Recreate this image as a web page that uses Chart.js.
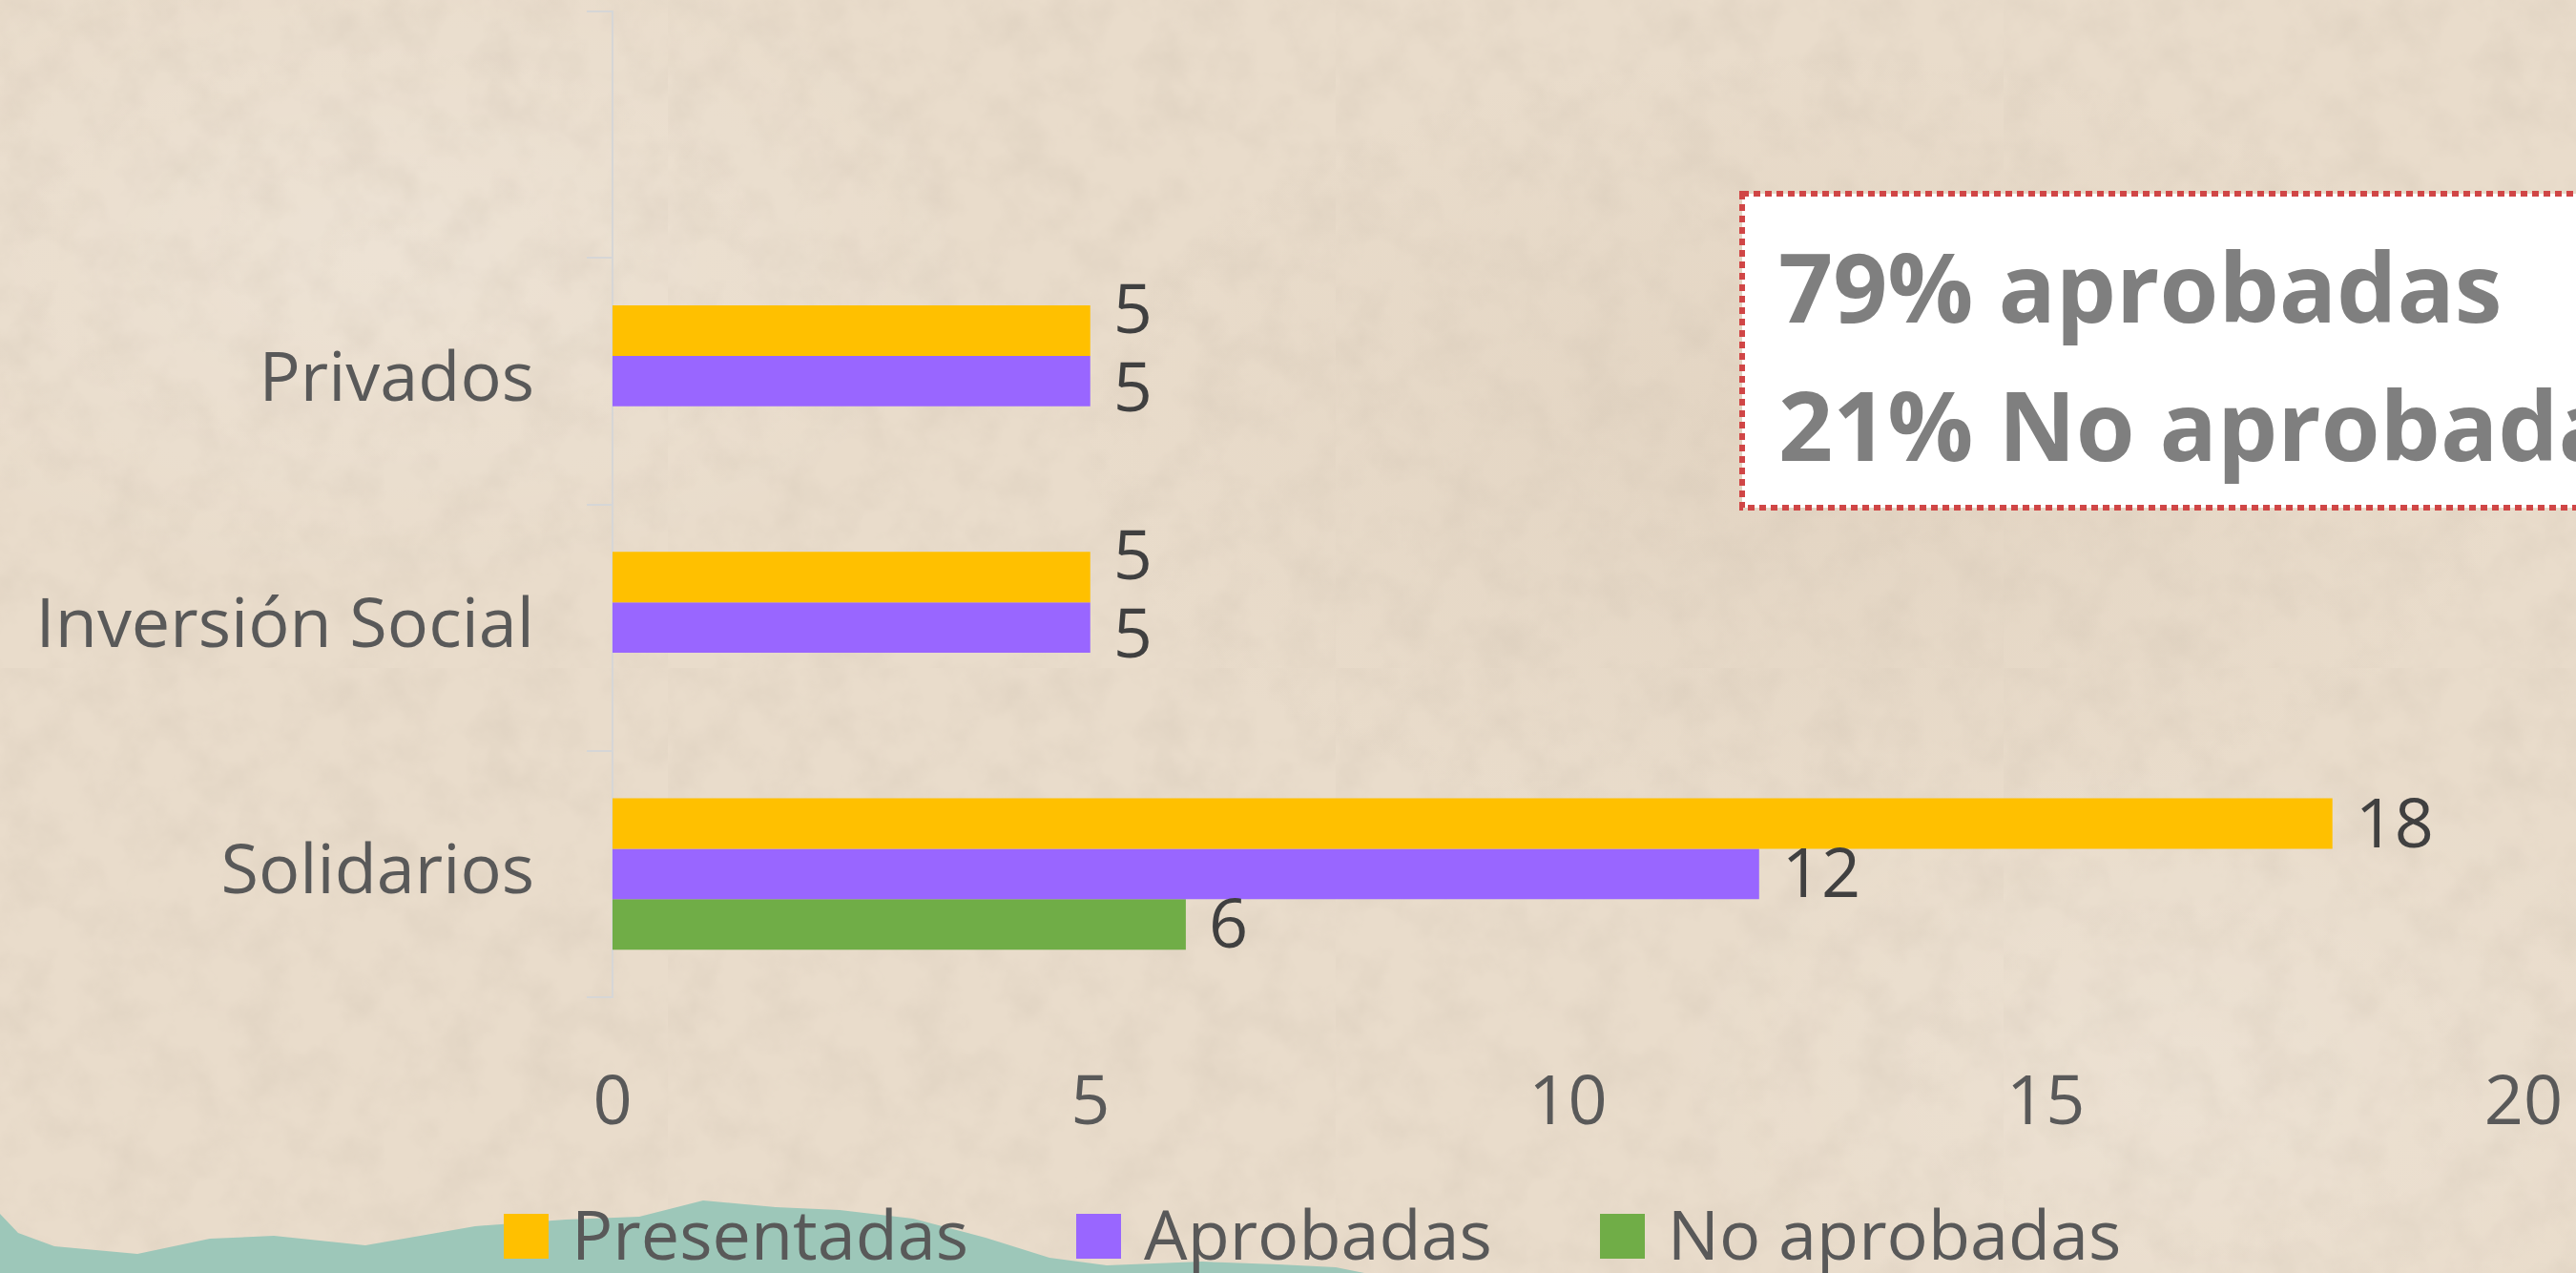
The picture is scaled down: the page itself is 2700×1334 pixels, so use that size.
<!DOCTYPE html>
<html>
<head>
<meta charset="utf-8">
<title>Propuestas</title>
<script src="https://cdn.jsdelivr.net/npm/chart.js@4.4.0/dist/chart.umd.min.js"></script>
<style>
  html, body { margin: 0; padding: 0; width: 2700px; height: 1334px; overflow: hidden; }
  body {
    position: relative;
    font-family: "Open Sans", Lato, sans-serif;
    background:
      radial-gradient(ellipse 900px 500px at 15% 20%, rgba(255,255,255,0.18), transparent 70%),
      radial-gradient(ellipse 1100px 600px at 70% 35%, rgba(150,120,90,0.08), transparent 70%),
      radial-gradient(ellipse 800px 500px at 85% 85%, rgba(255,255,255,0.15), transparent 70%),
      #e9dccb;
  }
  #grain {
    position: absolute; left: 0; top: 0; width: 2700px; height: 1334px; opacity: 0.45;
    background-image: url("data:image/svg+xml;utf8,<svg xmlns='http://www.w3.org/2000/svg' width='700' height='700'><filter id='n'><feTurbulence type='fractalNoise' baseFrequency='0.02' numOctaves='4' seed='7'/><feColorMatrix values='0 0 0 0 0.55  0 0 0 0 0.47  0 0 0 0 0.38  0.9 0 0 0 -0.35'/></filter><rect width='100%' height='100%' filter='url(%23n)'/></svg>");
  }
  #edge {
    position: absolute; left: 0; top: 0; width: 2700px; height: 1334px;
    background: #9dc7b9;
    clip-path: polygon(0px 1272px, 19px 1292px, 57px 1306px, 144px 1314px, 220px 1298px, 287px 1295px,
      383px 1305px, 498px 1285px, 593px 1278px, 670px 1275px, 737px 1258px, 813px 1265px, 880px 1268px,
      957px 1277px, 1033px 1297px, 1100px 1318px, 1160px 1326px, 1260px 1322px, 1340px 1325px,
      1400px 1328px, 1430px 1334px, 0px 1334px);
  }
  #wrap { position: absolute; left: 0; top: 0; width: 2700px; height: 1334px; }
  #legend {
    position: absolute; left: 528px; top: 1252px;
    display: flex; align-items: center; gap: 113px;
    font-size: 72px; color: #595959; line-height: 86px; white-space: nowrap;
  }
  #legend .item { display: flex; align-items: center; }
  #legend .box { width: 47px; height: 47px; margin-right: 24px; }
  #legend .txt { position: relative; top: -3px; }
</style>
</head>
<body>
<div id="grain"></div>
<div id="edge"></div>
<div id="wrap"><canvas id="chart" width="2700" height="1334"></canvas></div>
<div id="legend"></div>
<script>
const categories = ["", "Privados", "Inversión Social", "Solidarios"];
const presentadas = [null, 5, 5, 18];
const aprobadas = [null, 5, 5, 12];
const noAprobadas = [null, null, null, 6];
const seriesNames = ["Presentadas", "Aprobadas", "No aprobadas"];
const seriesColors = ["#ffc000", "#9966ff", "#70ad47"];
const xMin = 0, xMax = 20, xStep = 5;
const summaryLines = ["79% aprobadas", "21% No aprobadas"];

const FONT = "Open Sans";

// value labels at the end of each bar; labels that would collide get pushed apart
const barValueLabels = {
  id: "barValueLabels",
  afterDatasetsDraw(chart) {
    const ctx = chart.ctx;
    const minGap = 82;
    ctx.save();
    ctx.font = `72px ${FONT}`;
    ctx.fillStyle = "#404040";
    ctx.textAlign = "left";
    ctx.textBaseline = "middle";
    chart.data.labels.forEach((_, j) => {
      const items = [];
      chart.data.datasets.forEach((ds, i) => {
        const v = ds.data[j];
        if (v === null || v === undefined) return;
        const bar = chart.getDatasetMeta(i).data[j];
        const text = String(v);
        items.push({ text, x: bar.x + 24, w: ctx.measureText(text).width, y: bar.y + 4 });
      });
      for (let k = 1; k < items.length; k++) {
        const a = items[k - 1], b = items[k];
        const overlapX = a.x < b.x + b.w && b.x < a.x + a.w;
        const d = b.y - a.y;
        if (overlapX && d < minGap) {
          const need = minGap - d;
          a.y -= need * 0.75;
          b.y += need * 0.25;
        }
      }
      items.forEach(it => ctx.fillText(it.text, it.x, it.y));
    });
    ctx.restore();
  }
};

// dashed summary box, top right
const summaryBox = {
  id: "summaryBox",
  afterDraw(chart) {
    const ctx = chart.ctx;
    const x = 1826, y = 203, w = 1000, h = 329;
    ctx.save();
    ctx.fillStyle = "#ffffff";
    ctx.fillRect(x, y, w, h);
    ctx.setLineDash([7, 5]);
    ctx.lineWidth = 6;
    ctx.strokeStyle = "#d04646";
    ctx.strokeRect(x, y, w, h);
    ctx.setLineDash([]);
    ctx.fillStyle = "#7f7f7f";
    ctx.font = `bold 100px ${FONT}`;
    ctx.textAlign = "left";
    ctx.textBaseline = "alphabetic";
    ctx.fillText(summaryLines[0], 1864, 338);
    ctx.fillText(summaryLines[1], 1864, 483);
    ctx.restore();
  }
};

const datasets = [presentadas, aprobadas, noAprobadas].map((values, i) => ({
  label: seriesNames[i],
  data: values,
  backgroundColor: seriesColors[i],
  borderWidth: 0,
  categoryPercentage: 0.614,
  barPercentage: 1.0
}));

const chart = new Chart(document.getElementById("chart"), {
  type: "bar",
  data: { labels: categories, datasets: datasets },
  options: {
    indexAxis: "y",
    responsive: false,
    animation: false,
    devicePixelRatio: 1,
    layout: { padding: { top: 12, right: 55, bottom: 129, left: 0 } },
    scales: {
      y: {
        grid: { display: true, drawOnChartArea: false, offset: true, tickLength: 27, color: "#d6d6d6", lineWidth: 2 },
        border: { display: true, color: "#d6d6d6", width: 2 },
        ticks: { font: { family: FONT, size: 72 }, color: "#595959", padding: 55 },
        afterFit: s => {
          s.width = 642;
          s.paddingTop = 0;
          s.paddingBottom = 0;
        }
      },
      x: {
        min: xMin,
        max: xMax,
        grid: { display: false, drawTicks: false },
        border: { display: false },
        ticks: { stepSize: xStep, font: { family: FONT, size: 72 }, color: "#595959", padding: 69, maxRotation: 0 },
        afterFit: s => {
          s.height = 160;
          s.paddingLeft = 0;
          s.paddingRight = 0;
        }
      }
    },
    plugins: {
      legend: { display: false },
      tooltip: { enabled: false }
    }
  },
  plugins: [barValueLabels, summaryBox]
});

// HTML legend built from the chart's datasets
const legendEl = document.getElementById("legend");
chart.data.datasets.forEach(ds => {
  const item = document.createElement("div");
  item.className = "item";
  const box = document.createElement("span");
  box.className = "box";
  box.style.background = ds.backgroundColor;
  const text = document.createElement("span");
  text.className = "txt";
  text.textContent = ds.label;
  item.appendChild(box);
  item.appendChild(text);
  legendEl.appendChild(item);
});
</script>
</body>
</html>
